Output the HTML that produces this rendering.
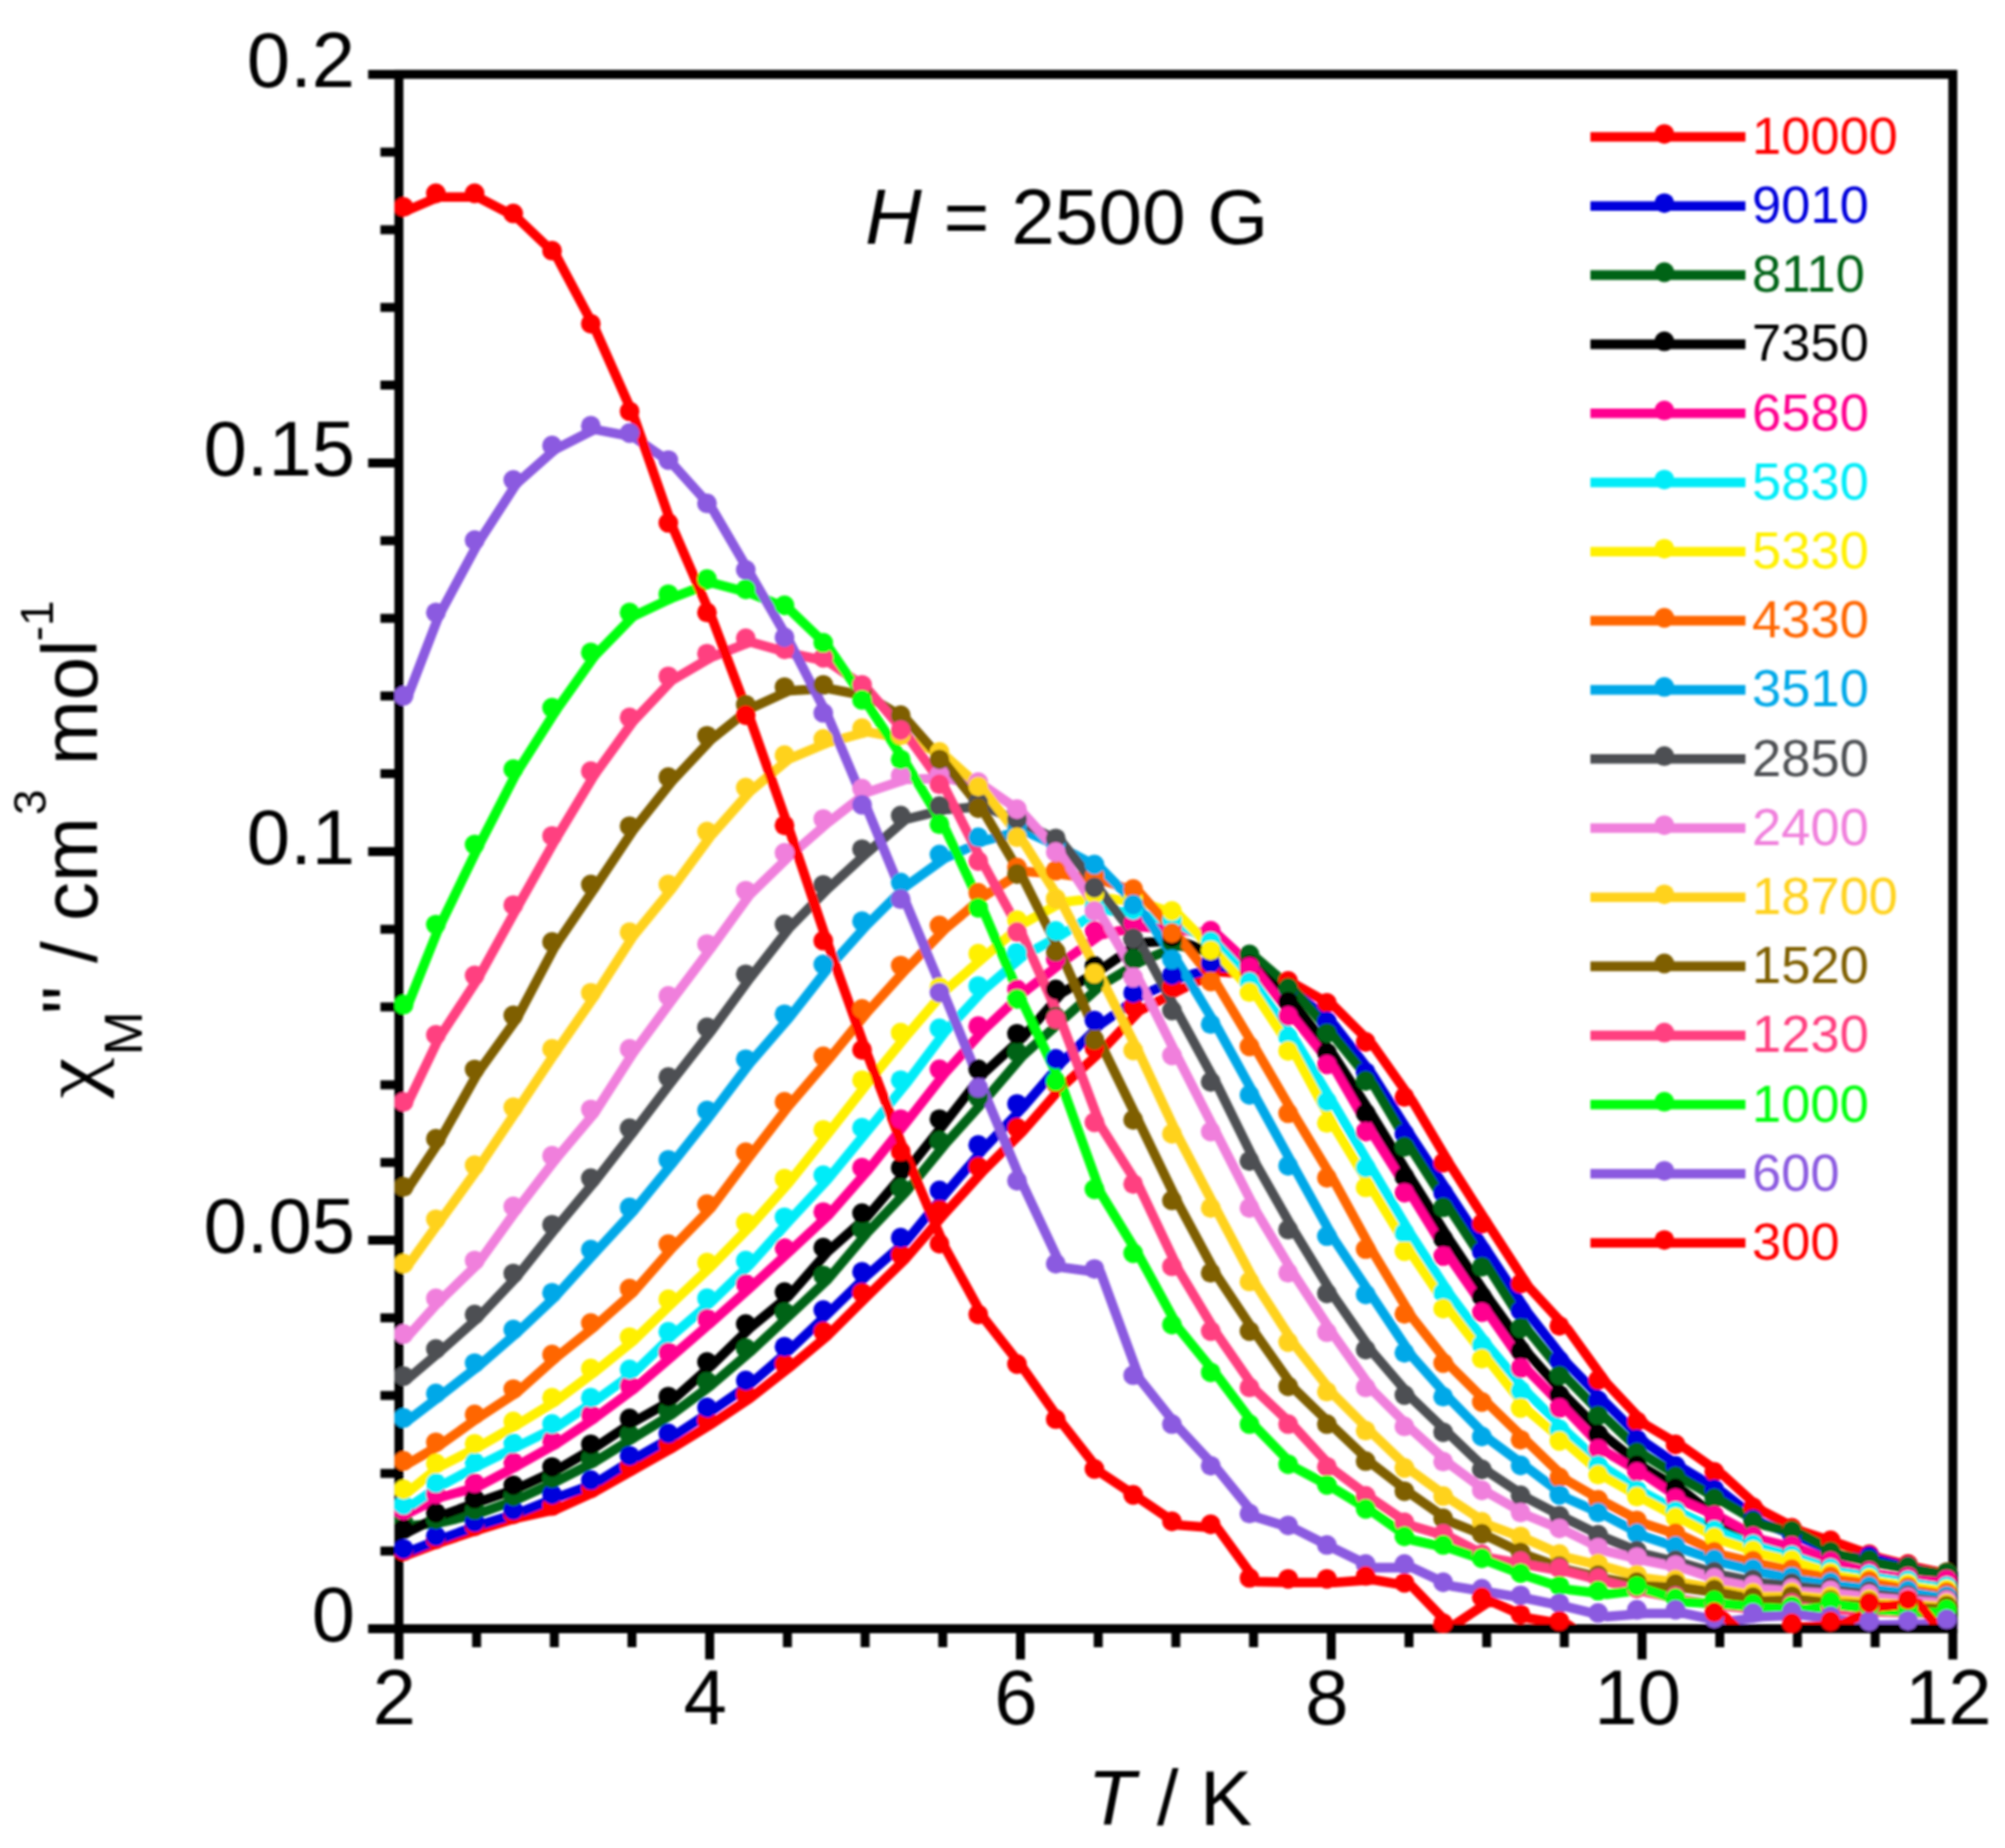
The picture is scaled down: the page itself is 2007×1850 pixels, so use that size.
<!DOCTYPE html>
<html lang="en"><head><meta charset="utf-8"><title>AC susceptibility plot</title>
<style>html,body{margin:0;padding:0;background:#fff;}body{width:2007px;height:1850px;overflow:hidden;}svg{display:block;}text{font-family:"Liberation Sans", Arial, sans-serif;}</style>
</head><body>
<svg width="2007" height="1850" viewBox="0 0 2007 1850">
<defs><clipPath id="cp"><rect x="395" y="70" width="1564.6" height="1565"/></clipPath><filter id="bl" x="-2%" y="-2%" width="104%" height="104%"><feGaussianBlur stdDeviation="1.0"/></filter></defs>
<rect width="2007" height="1850" fill="#fff"/>
<g filter="url(#bl)">
<g fill="#000"><text x="394.8" y="1726" font-size="78" text-anchor="middle">2</text><text x="705.9" y="1726" font-size="78" text-anchor="middle">4</text><text x="1017" y="1726" font-size="78" text-anchor="middle">6</text><text x="1328.1" y="1726" font-size="78" text-anchor="middle">8</text><text x="1639.2" y="1726" font-size="78" text-anchor="middle">10</text><text x="1950.3" y="1726" font-size="78" text-anchor="middle">12</text><text x="355.5" y="1643" font-size="78" text-anchor="end">0</text><text x="355.5" y="1254" font-size="78" text-anchor="end">0.05</text><text x="355.5" y="865" font-size="78" text-anchor="end">0.1</text><text x="355.5" y="475.9" font-size="78" text-anchor="end">0.15</text><text x="355.5" y="86.9" font-size="78" text-anchor="end">0.2</text></g>
<text x="1171" y="1826.5" font-size="78" text-anchor="middle" fill="#000"><tspan font-style="italic">T</tspan> / K</text>
<text x="866" y="243.5" font-size="78.5" fill="#000"><tspan font-style="italic">H</tspan> = 2500 G</text>
<g transform="translate(97 1100) rotate(-90)" fill="#000"><text transform="scale(1.17 1)" x="0.5" y="0" font-size="78" style="font-family:'Liberation Serif','DejaVu Serif',serif">χ</text><text x="43.5" y="45.3" font-size="53">M</text><text x="85" y="0" font-size="78">"</text><text x="136" y="0" font-size="78">/</text><text x="178" y="0" font-size="78">cm</text><text x="284" y="-51" font-size="46">3</text><text x="334" y="0" font-size="78">mol</text><text x="458" y="-44.5" font-size="46">-1</text></g>
<g clip-path="url(#cp)" fill="none" stroke-width="9.6" stroke-linejoin="round" stroke-linecap="round"><polyline points="407,1556.7 439.1,1544.7 478.1,1531.7 517,1519.7 556,1511.4 595,1493.7 634,1471.5 673,1449.6 712,1425.7 750.9,1399.7 789.9,1369.2 828.9,1336.7 867.9,1297.8 906.9,1259.7 945.9,1214.7 984.8,1171.6 1023.8,1132.6 1062.8,1088.2 1101.8,1052.7 1140.8,1011.7 1179.8,991.7 1218.7,972.7 1257.7,975.7 1296.7,985.7 1335.7,1007.7 1374.7,1046.7 1413.7,1101.9 1452.6,1167.7 1491.6,1228.7 1530.6,1288.8 1569.6,1331 1608.6,1385.1 1647.6,1426.5 1686.5,1449.7 1725.5,1477.2 1764.5,1512.7 1803.5,1533.1 1842.5,1545.7 1881.5,1559.6 1920.4,1569.4 1959.4,1577.7" stroke="#ff0000"/><polyline points="407,1554.3 439.1,1541.4 478.1,1527.4 517,1515.4 556,1499.7 595,1485.4 634,1461 673,1438.6 712,1412.7 750.9,1385.7 789.9,1351.9 828.9,1315.1 867.9,1276.9 906.9,1242.7 945.9,1195.4 984.8,1149.9 1023.8,1108.8 1062.8,1063.7 1101.8,1025.3 1140.8,997.7 1179.8,979.7 1218.7,967.7 1257.7,971.7 1296.7,993.7 1335.7,1026.1 1374.7,1077 1413.7,1138.7 1452.6,1197.7 1491.6,1256.7 1530.6,1315.8 1569.6,1365.6 1608.6,1405.6 1647.6,1444.7 1686.5,1471.2 1725.5,1494.7 1764.5,1524.7 1803.5,1539.7 1842.5,1557.7 1881.5,1561.7 1920.4,1571.7 1959.4,1578.7" stroke="#0000dc"/><polyline points="407,1527.7 439.1,1524.7 478.1,1515.4 517,1501.5 556,1483.5 595,1463.6 634,1439.6 673,1415.7 712,1386.7 750.9,1353.4 789.9,1317.3 828.9,1280.5 867.9,1234.3 906.9,1193.2 945.9,1145.6 984.8,1102.3 1023.8,1056.9 1062.8,1021.7 1101.8,986.7 1140.8,963.2 1179.8,946.7 1218.7,953.7 1257.7,959.2 1296.7,992.7 1335.7,1038 1374.7,1085.7 1413.7,1151.7 1452.6,1212.4 1491.6,1271.9 1530.6,1333.1 1569.6,1380.8 1608.6,1420.8 1647.6,1457.7 1686.5,1481.7 1725.5,1503.7 1764.5,1526.7 1803.5,1535.9 1842.5,1556.8 1881.5,1565.2 1920.4,1572.2 1959.4,1577.8" stroke="#006414"/><polyline points="407,1534.4 439.1,1518.2 478.1,1504.1 517,1490.5 556,1472.3 595,1449.5 634,1423.6 673,1401.8 712,1367.2 750.9,1329.2 789.9,1297.2 828.9,1252.7 867.9,1218.1 906.9,1172.7 945.9,1124 984.8,1074.2 1023.8,1038.5 1062.8,994.2 1101.8,970.7 1140.8,943.7 1179.8,941.7 1218.7,955.7 1257.7,969.7 1296.7,1006.4 1335.7,1057.5 1374.7,1118.1 1413.7,1181.7 1452.6,1243.7 1491.6,1301.7 1530.6,1355.9 1569.6,1400.2 1608.6,1439.4 1647.6,1470.7 1686.5,1493.7 1725.5,1524.7 1764.5,1543.7 1803.5,1552.7 1842.5,1567.7 1881.5,1576.7 1920.4,1582.7 1959.4,1585.7" stroke="#000000"/><polyline points="407,1515.7 439.1,1499.5 478.1,1488.5 517,1467.7 556,1445.9 595,1419.9 634,1391 673,1357.5 712,1323.9 750.9,1289.2 789.9,1253.2 828.9,1217 867.9,1172.7 906.9,1124 945.9,1074.2 984.8,1030.9 1023.8,994.1 1062.8,963.7 1101.8,935.7 1140.8,927.7 1179.8,930.7 1218.7,935.4 1257.7,971.5 1296.7,1020.7 1335.7,1069.4 1374.7,1136.5 1413.7,1197.8 1452.6,1261.1 1491.6,1317.4 1530.6,1373.2 1569.6,1413.2 1608.6,1454.1 1647.6,1477.3 1686.5,1503.5 1725.5,1520.7 1764.5,1541.7 1803.5,1551.2 1842.5,1566.6 1881.5,1576.4 1920.4,1582 1959.4,1584.8" stroke="#ff0090"/><polyline points="407,1510.2 439.1,1488.4 478.1,1467.7 517,1448.5 556,1429.2 595,1402.9 634,1374.7 673,1336.9 712,1303.4 750.9,1265.7 789.9,1222.3 828.9,1180.2 867.9,1132.6 906.9,1085 945.9,1033.1 984.8,990.8 1023.8,957.3 1062.8,935.7 1101.8,910.7 1140.8,914.7 1179.8,924.7 1218.7,946.1 1257.7,986.7 1296.7,1041.7 1335.7,1106.2 1374.7,1172.5 1413.7,1237.9 1452.6,1297.7 1491.6,1349.7 1530.6,1395.9 1569.6,1434.7 1608.6,1470.7 1647.6,1495.5 1686.5,1516.3 1725.5,1535.4 1764.5,1549.7 1803.5,1560.7 1842.5,1573.7 1881.5,1579.7 1920.4,1585.7 1959.4,1591.7" stroke="#00ecf8"/><polyline points="407,1494.7 439.1,1468.7 478.1,1449 517,1426.7 556,1402.9 595,1373.7 634,1342.3 673,1304.4 712,1267.6 750.9,1227.7 789.9,1183.7 828.9,1134.8 867.9,1085 906.9,1037.4 945.9,991.9 984.8,958.4 1023.8,924.8 1062.8,903.2 1101.8,898.7 1140.8,902.7 1179.8,915.7 1218.7,955 1257.7,996.9 1296.7,1055.7 1335.7,1127.9 1374.7,1192.4 1413.7,1256.3 1452.6,1313.7 1491.6,1363.9 1530.6,1413.2 1569.6,1446.2 1608.6,1479.9 1647.6,1501.9 1686.5,1522.6 1725.5,1542.7 1764.5,1555.7 1803.5,1565.2 1842.5,1577.8 1881.5,1583.4 1920.4,1589 1959.4,1594.5" stroke="#fff000"/><polyline points="407,1466.1 439.1,1447.5 478.1,1419.7 517,1394.3 556,1359.6 595,1328.2 634,1293.6 673,1249.2 712,1209.2 750.9,1157.2 789.9,1106.6 828.9,1061.2 867.9,1013.6 906.9,970.3 945.9,930.2 984.8,897.4 1023.8,872.2 1062.8,875.2 1101.8,880.7 1140.8,893.7 1179.8,937.7 1218.7,986.2 1257.7,1051.2 1296.7,1118.1 1335.7,1182.7 1374.7,1254.1 1413.7,1319 1452.6,1368.3 1491.6,1407.2 1530.6,1445 1569.6,1482.7 1608.6,1505.1 1647.6,1525.8 1686.5,1538.6 1725.5,1557.2 1764.5,1566.2 1803.5,1574.7 1842.5,1581.7 1881.5,1586.2 1920.4,1592.4 1959.4,1597.7" stroke="#ff6600"/><polyline points="407,1423.1 439.1,1398.6 478.1,1368.3 517,1334.7 556,1297.9 595,1254.7 634,1212.4 673,1164.8 712,1115.4 750.9,1064 789.9,1019 828.9,969.2 867.9,925.9 906.9,887.2 945.9,859.2 984.8,841.9 1023.8,831.1 1062.8,848.7 1101.8,869.2 1140.8,909.2 1179.8,964.2 1218.7,1028.9 1257.7,1099.7 1296.7,1170.7 1335.7,1241.1 1374.7,1299.5 1413.7,1358 1452.6,1401.9 1491.6,1441.7 1530.6,1470.7 1569.6,1500.3 1608.6,1517.9 1647.6,1538.6 1686.5,1551.4 1725.5,1564.7 1764.5,1574.2 1803.5,1582 1842.5,1587.6 1881.5,1591.7 1920.4,1595.7 1959.4,1601.5" stroke="#00a8e8"/><polyline points="407,1381.3 439.1,1354.2 478.1,1319.6 517,1278.5 556,1229.8 595,1183.2 634,1133.1 673,1081.9 712,1032.1 750.9,979 789.9,929.2 828.9,889.5 867.9,853.8 906.9,820.2 945.9,810.5 984.8,807.2 1023.8,823.7 1062.8,843 1101.8,892.2 1140.8,943.2 1179.8,1015.2 1218.7,1086.7 1257.7,1166 1296.7,1234.6 1335.7,1298.5 1374.7,1354.7 1413.7,1400.2 1452.6,1437.5 1491.6,1474.7 1530.6,1500.7 1569.6,1521.1 1608.6,1540.2 1647.6,1556.2 1686.5,1565.7 1725.5,1577.2 1764.5,1584.9 1803.5,1588.7 1842.5,1592.7 1881.5,1596.7 1920.4,1600.7 1959.4,1604.7" stroke="#4d5052"/><polyline points="407,1339.1 439.1,1303.4 478.1,1265.5 517,1211.4 556,1160.7 595,1114.3 634,1053.7 673,1000.7 712,948.8 750.9,895.3 789.9,857.4 828.9,823.5 867.9,793.2 906.9,780.2 945.9,779.1 984.8,786.7 1023.8,813.7 1062.8,856.7 1101.8,915.7 1140.8,982.2 1179.8,1060.2 1218.7,1136.5 1257.7,1213 1296.7,1277.9 1335.7,1337.4 1374.7,1392.6 1413.7,1431.6 1452.6,1466.9 1491.6,1495.7 1530.6,1517.9 1569.6,1533.8 1608.6,1553 1647.6,1562.5 1686.5,1570.5 1725.5,1583.4 1764.5,1590.7 1803.5,1593.7 1842.5,1595.9 1881.5,1599.7 1920.4,1602.7 1959.4,1605.7" stroke="#f07fdc"/><polyline points="407,1268.7 439.1,1224.3 478.1,1170.2 517,1112.2 556,1053.7 595,997.5 634,936.9 673,889.2 712,836.2 750.9,792.2 789.9,759.7 828.9,743.4 867.9,732.6 906.9,739.7 945.9,756.4 984.8,791 1023.8,841.9 1062.8,903.7 1101.8,978.2 1140.8,1055.2 1179.8,1138.7 1218.7,1213 1257.7,1286.6 1296.7,1347.2 1335.7,1396.9 1374.7,1435.9 1413.7,1473.2 1452.6,1501.4 1491.6,1527.2 1530.6,1541.8 1569.6,1559.4 1608.6,1568.9 1647.6,1580.1 1686.5,1584.9 1725.5,1591.7 1764.5,1598.2 1803.5,1597.7 1842.5,1601.7 1881.5,1604.7 1920.4,1606.7 1959.4,1608.7" stroke="#ffd21e"/><polyline points="407,1191.9 439.1,1143.7 478.1,1074.3 517,1020.2 556,946.6 595,889.2 634,830.8 673,781.7 712,740.3 750.9,709.3 789.9,691.5 828.9,689.3 867.9,696.7 906.9,719.6 945.9,764 984.8,812.7 1023.8,878.7 1062.8,956.4 1101.8,1044.7 1140.8,1124.7 1179.8,1205.4 1218.7,1277.9 1257.7,1336.3 1296.7,1391.5 1335.7,1429.4 1374.7,1466.4 1413.7,1496.5 1452.6,1523.7 1491.6,1539.2 1530.6,1557.8 1569.6,1571.7 1608.6,1580.7 1647.6,1587.7 1686.5,1589.7 1725.5,1595.2 1764.5,1602.7 1803.5,1601.5 1842.5,1605.7 1881.5,1607.7 1920.4,1609.7 1959.4,1611.3" stroke="#7f5f00"/><polyline points="407,1106.8 439.1,1039.7 478.1,980.2 517,909.8 556,840.5 595,775.7 634,721.9 673,680.8 712,658 750.9,642.7 789.9,653.7 828.9,662.2 867.9,689.3 906.9,734.7 945.9,788.9 984.8,865.7 1023.8,936.7 1062.8,1023.7 1101.8,1127.2 1140.8,1189 1179.8,1271.4 1218.7,1336.3 1257.7,1392.6 1296.7,1429.4 1335.7,1472 1374.7,1501.2 1413.7,1527.7 1452.6,1539.2 1491.6,1559.7 1530.6,1566.7 1569.6,1573.7 1608.6,1583.7 1647.6,1593.7 1686.5,1601.7 1725.5,1607.7 1764.5,1611.7 1803.5,1608.7 1842.5,1611.7 1881.5,1613.7 1920.4,1614.7 1959.4,1615.7" stroke="#ff4080"/><polyline points="407,1009.4 439.1,929.3 478.1,849.2 517,773.7 556,712.1 595,656.9 634,616.9 673,598.5 712,583.4 750.9,593.7 789.9,609.7 828.9,647.1 867.9,704.4 906.9,764 945.9,828.9 984.8,912.5 1023.8,1003.8 1062.8,1086.1 1101.8,1194.2 1140.8,1258.2 1179.8,1329.8 1218.7,1377.5 1257.7,1429.4 1296.7,1469.5 1335.7,1490.3 1374.7,1514.2 1413.7,1541.7 1452.6,1550.4 1491.6,1563.7 1530.6,1578.5 1569.6,1591.3 1608.6,1596.1 1647.6,1591.3 1686.5,1603.7 1725.5,1605.7 1764.5,1609.4 1803.5,1611.3 1842.5,1607.1 1881.5,1611.7 1920.4,1613.7 1959.4,1614.7" stroke="#00ff0a"/><polyline points="407,700.2 439.1,616.9 478.1,544.4 517,484.2 556,449.7 595,429.9 634,437.2 673,464.3 712,507.6 750.9,574.1 789.9,641.7 828.9,717.4 867.9,809.4 906.9,903.9 945.9,997.3 984.8,1092.6 1023.8,1185.7 1062.8,1268.7 1101.8,1274 1140.8,1380.4 1179.8,1429.4 1218.7,1471 1257.7,1518.9 1296.7,1530.8 1335.7,1550.4 1374.7,1569.4 1413.7,1569.4 1452.6,1587.7 1491.6,1594.1 1530.6,1600.8 1569.6,1608.8 1608.6,1618.4 1647.6,1615.2 1686.5,1615.2 1725.5,1623.7 1764.5,1618.4 1803.5,1616.7 1842.5,1621.7 1881.5,1626.7 1920.4,1626 1959.4,1624.6" stroke="#8b5ae0"/><polyline points="407,210.9 439.1,197.2 478.1,197.2 517,217.4 556,254.6 595,327.8 634,415.5 673,527.1 712,616.9 750.9,719.7 789.9,830 828.9,945.4 867.9,1054.7 906.9,1156.4 945.9,1248.7 984.8,1319.5 1023.8,1369.2 1062.8,1424.4 1101.8,1474.2 1140.8,1500.2 1179.8,1526.7 1218.7,1529.7 1257.7,1583.4 1296.7,1584.3 1335.7,1584.3 1374.7,1581.4 1413.7,1588.3 1452.6,1628.7 1491.6,1602.7 1530.6,1620 1569.6,1626.4 1608.6,1653.7 1647.6,1653.7 1686.5,1653.7 1725.5,1617.6 1764.5,1653.7 1803.5,1628.7 1842.5,1626.7 1881.5,1608.5 1920.4,1605 1959.4,1653.7" stroke="#ff0000"/></g>
<g><rect x="399.3" y="74.4" width="1555.5" height="1556.1" fill="none" stroke="#000" stroke-width="9"/><path d="M399.3 1630.5V1661.3M477.1 1630.5V1649M554.9 1630.5V1649M632.6 1630.5V1649M710.4 1630.5V1661.3M788.2 1630.5V1649M866 1630.5V1649M943.7 1630.5V1649M1021.5 1630.5V1661.3M1099.3 1630.5V1649M1177 1630.5V1649M1254.8 1630.5V1649M1332.6 1630.5V1661.3M1410.4 1630.5V1649M1488.2 1630.5V1649M1565.9 1630.5V1649M1643.7 1630.5V1661.3M1721.5 1630.5V1649M1799.2 1630.5V1649M1877 1630.5V1649M1954.8 1630.5V1661.3M399.3 1630.5H368.5M399.3 1552.7H380.8M399.3 1474.9H380.8M399.3 1397.1H380.8M399.3 1319.3H380.8M399.3 1241.5H368.5M399.3 1163.7H380.8M399.3 1085.9H380.8M399.3 1008.1H380.8M399.3 930.3H380.8M399.3 852.5H368.5M399.3 774.6H380.8M399.3 696.8H380.8M399.3 619H380.8M399.3 541.2H380.8M399.3 463.4H368.5M399.3 385.6H380.8M399.3 307.8H380.8M399.3 230H380.8M399.3 152.2H380.8M399.3 74.4H368.5" stroke="#000" stroke-width="9" fill="none"/></g>
<g clip-path="url(#cp)" stroke="none"><g fill="#ff0000"><circle cx="404" cy="1553" r="9.9"/><circle cx="436.3" cy="1541" r="9.9"/><circle cx="475.1" cy="1528" r="9.9"/><circle cx="513.8" cy="1516" r="9.9"/><circle cx="552.6" cy="1507.7" r="9.9"/><circle cx="591.4" cy="1490" r="9.9"/><circle cx="630.2" cy="1467.8" r="9.9"/><circle cx="669" cy="1445.9" r="9.9"/><circle cx="707.7" cy="1422" r="9.9"/><circle cx="746.5" cy="1396" r="9.9"/><circle cx="785.3" cy="1365.5" r="9.9"/><circle cx="824.1" cy="1333" r="9.9"/><circle cx="862.9" cy="1294.1" r="9.9"/><circle cx="901.6" cy="1256" r="9.9"/><circle cx="940.4" cy="1211" r="9.9"/><circle cx="979.2" cy="1167.9" r="9.9"/><circle cx="1018" cy="1128.9" r="9.9"/><circle cx="1056.8" cy="1084.5" r="9.9"/><circle cx="1095.5" cy="1049" r="9.9"/><circle cx="1134.3" cy="1008" r="9.9"/><circle cx="1173.1" cy="988" r="9.9"/><circle cx="1211.9" cy="969" r="9.9"/><circle cx="1250.7" cy="972" r="9.9"/><circle cx="1289.4" cy="982" r="9.9"/><circle cx="1328.2" cy="1004" r="9.9"/><circle cx="1367" cy="1043" r="9.9"/><circle cx="1405.8" cy="1098.2" r="9.9"/><circle cx="1444.6" cy="1164" r="9.9"/><circle cx="1483.3" cy="1225" r="9.9"/><circle cx="1522.1" cy="1285.1" r="9.9"/><circle cx="1560.9" cy="1327.3" r="9.9"/><circle cx="1599.7" cy="1381.4" r="9.9"/><circle cx="1638.5" cy="1422.8" r="9.9"/><circle cx="1677.2" cy="1446" r="9.9"/><circle cx="1716" cy="1473.5" r="9.9"/><circle cx="1754.8" cy="1509" r="9.9"/><circle cx="1793.6" cy="1529.4" r="9.9"/><circle cx="1832.4" cy="1542" r="9.9"/><circle cx="1871.1" cy="1555.9" r="9.9"/><circle cx="1909.9" cy="1565.7" r="9.9"/><circle cx="1948.7" cy="1574" r="9.9"/></g><g fill="#0000dc"><circle cx="404" cy="1550.6" r="9.9"/><circle cx="436.3" cy="1537.7" r="9.9"/><circle cx="475.1" cy="1523.7" r="9.9"/><circle cx="513.8" cy="1511.7" r="9.9"/><circle cx="552.6" cy="1496" r="9.9"/><circle cx="591.4" cy="1481.7" r="9.9"/><circle cx="630.2" cy="1457.3" r="9.9"/><circle cx="669" cy="1434.9" r="9.9"/><circle cx="707.7" cy="1409" r="9.9"/><circle cx="746.5" cy="1382" r="9.9"/><circle cx="785.3" cy="1348.2" r="9.9"/><circle cx="824.1" cy="1311.4" r="9.9"/><circle cx="862.9" cy="1273.2" r="9.9"/><circle cx="901.6" cy="1239" r="9.9"/><circle cx="940.4" cy="1191.7" r="9.9"/><circle cx="979.2" cy="1146.2" r="9.9"/><circle cx="1018" cy="1105.1" r="9.9"/><circle cx="1056.8" cy="1060" r="9.9"/><circle cx="1095.5" cy="1021.6" r="9.9"/><circle cx="1134.3" cy="994" r="9.9"/><circle cx="1173.1" cy="976" r="9.9"/><circle cx="1211.9" cy="964" r="9.9"/><circle cx="1250.7" cy="968" r="9.9"/><circle cx="1289.4" cy="990" r="9.9"/><circle cx="1328.2" cy="1022.4" r="9.9"/><circle cx="1367" cy="1073.3" r="9.9"/><circle cx="1405.8" cy="1135" r="9.9"/><circle cx="1444.6" cy="1194" r="9.9"/><circle cx="1483.3" cy="1253" r="9.9"/><circle cx="1522.1" cy="1312.1" r="9.9"/><circle cx="1560.9" cy="1361.9" r="9.9"/><circle cx="1599.7" cy="1401.9" r="9.9"/><circle cx="1638.5" cy="1441" r="9.9"/><circle cx="1677.2" cy="1467.5" r="9.9"/><circle cx="1716" cy="1491" r="9.9"/><circle cx="1754.8" cy="1521" r="9.9"/><circle cx="1793.6" cy="1536" r="9.9"/><circle cx="1832.4" cy="1554" r="9.9"/><circle cx="1871.1" cy="1558" r="9.9"/><circle cx="1909.9" cy="1568" r="9.9"/><circle cx="1948.7" cy="1575" r="9.9"/></g><g fill="#006414"><circle cx="404" cy="1524" r="9.9"/><circle cx="436.3" cy="1521" r="9.9"/><circle cx="475.1" cy="1511.7" r="9.9"/><circle cx="513.8" cy="1497.8" r="9.9"/><circle cx="552.6" cy="1479.8" r="9.9"/><circle cx="591.4" cy="1459.9" r="9.9"/><circle cx="630.2" cy="1435.9" r="9.9"/><circle cx="669" cy="1412" r="9.9"/><circle cx="707.7" cy="1383" r="9.9"/><circle cx="746.5" cy="1349.7" r="9.9"/><circle cx="785.3" cy="1313.6" r="9.9"/><circle cx="824.1" cy="1276.8" r="9.9"/><circle cx="862.9" cy="1230.6" r="9.9"/><circle cx="901.6" cy="1189.5" r="9.9"/><circle cx="940.4" cy="1141.9" r="9.9"/><circle cx="979.2" cy="1098.6" r="9.9"/><circle cx="1018" cy="1053.2" r="9.9"/><circle cx="1056.8" cy="1018" r="9.9"/><circle cx="1095.5" cy="983" r="9.9"/><circle cx="1134.3" cy="959.5" r="9.9"/><circle cx="1173.1" cy="943" r="9.9"/><circle cx="1211.9" cy="950" r="9.9"/><circle cx="1250.7" cy="955.5" r="9.9"/><circle cx="1289.4" cy="989" r="9.9"/><circle cx="1328.2" cy="1034.3" r="9.9"/><circle cx="1367" cy="1082" r="9.9"/><circle cx="1405.8" cy="1148" r="9.9"/><circle cx="1444.6" cy="1208.7" r="9.9"/><circle cx="1483.3" cy="1268.2" r="9.9"/><circle cx="1522.1" cy="1329.4" r="9.9"/><circle cx="1560.9" cy="1377.1" r="9.9"/><circle cx="1599.7" cy="1417.1" r="9.9"/><circle cx="1638.5" cy="1454" r="9.9"/><circle cx="1677.2" cy="1478" r="9.9"/><circle cx="1716" cy="1500" r="9.9"/><circle cx="1754.8" cy="1523" r="9.9"/><circle cx="1793.6" cy="1532.2" r="9.9"/><circle cx="1832.4" cy="1553.1" r="9.9"/><circle cx="1871.1" cy="1561.5" r="9.9"/><circle cx="1909.9" cy="1568.5" r="9.9"/><circle cx="1948.7" cy="1574.1" r="9.9"/></g><g fill="#000000"><circle cx="404" cy="1530.7" r="9.9"/><circle cx="436.3" cy="1514.5" r="9.9"/><circle cx="475.1" cy="1500.4" r="9.9"/><circle cx="513.8" cy="1486.8" r="9.9"/><circle cx="552.6" cy="1468.6" r="9.9"/><circle cx="591.4" cy="1445.8" r="9.9"/><circle cx="630.2" cy="1419.9" r="9.9"/><circle cx="669" cy="1398.1" r="9.9"/><circle cx="707.7" cy="1363.5" r="9.9"/><circle cx="746.5" cy="1325.5" r="9.9"/><circle cx="785.3" cy="1293.5" r="9.9"/><circle cx="824.1" cy="1249" r="9.9"/><circle cx="862.9" cy="1214.4" r="9.9"/><circle cx="901.6" cy="1169" r="9.9"/><circle cx="940.4" cy="1120.3" r="9.9"/><circle cx="979.2" cy="1070.5" r="9.9"/><circle cx="1018" cy="1034.8" r="9.9"/><circle cx="1056.8" cy="990.5" r="9.9"/><circle cx="1095.5" cy="967" r="9.9"/><circle cx="1134.3" cy="940" r="9.9"/><circle cx="1173.1" cy="938" r="9.9"/><circle cx="1211.9" cy="952" r="9.9"/><circle cx="1250.7" cy="966" r="9.9"/><circle cx="1289.4" cy="1002.7" r="9.9"/><circle cx="1328.2" cy="1053.8" r="9.9"/><circle cx="1367" cy="1114.4" r="9.9"/><circle cx="1405.8" cy="1178" r="9.9"/><circle cx="1444.6" cy="1240" r="9.9"/><circle cx="1483.3" cy="1298" r="9.9"/><circle cx="1522.1" cy="1352.2" r="9.9"/><circle cx="1560.9" cy="1396.5" r="9.9"/><circle cx="1599.7" cy="1435.7" r="9.9"/><circle cx="1638.5" cy="1467" r="9.9"/><circle cx="1677.2" cy="1490" r="9.9"/><circle cx="1716" cy="1521" r="9.9"/><circle cx="1754.8" cy="1540" r="9.9"/><circle cx="1793.6" cy="1549" r="9.9"/><circle cx="1832.4" cy="1564" r="9.9"/><circle cx="1871.1" cy="1573" r="9.9"/><circle cx="1909.9" cy="1579" r="9.9"/><circle cx="1948.7" cy="1582" r="9.9"/></g><g fill="#ff0090"><circle cx="404" cy="1512" r="9.9"/><circle cx="436.3" cy="1495.8" r="9.9"/><circle cx="475.1" cy="1484.8" r="9.9"/><circle cx="513.8" cy="1464" r="9.9"/><circle cx="552.6" cy="1442.2" r="9.9"/><circle cx="591.4" cy="1416.2" r="9.9"/><circle cx="630.2" cy="1387.3" r="9.9"/><circle cx="669" cy="1353.8" r="9.9"/><circle cx="707.7" cy="1320.2" r="9.9"/><circle cx="746.5" cy="1285.5" r="9.9"/><circle cx="785.3" cy="1249.5" r="9.9"/><circle cx="824.1" cy="1213.3" r="9.9"/><circle cx="862.9" cy="1169" r="9.9"/><circle cx="901.6" cy="1120.3" r="9.9"/><circle cx="940.4" cy="1070.5" r="9.9"/><circle cx="979.2" cy="1027.2" r="9.9"/><circle cx="1018" cy="990.4" r="9.9"/><circle cx="1056.8" cy="960" r="9.9"/><circle cx="1095.5" cy="932" r="9.9"/><circle cx="1134.3" cy="924" r="9.9"/><circle cx="1173.1" cy="927" r="9.9"/><circle cx="1211.9" cy="931.7" r="9.9"/><circle cx="1250.7" cy="967.8" r="9.9"/><circle cx="1289.4" cy="1017" r="9.9"/><circle cx="1328.2" cy="1065.7" r="9.9"/><circle cx="1367" cy="1132.8" r="9.9"/><circle cx="1405.8" cy="1194.1" r="9.9"/><circle cx="1444.6" cy="1257.4" r="9.9"/><circle cx="1483.3" cy="1313.7" r="9.9"/><circle cx="1522.1" cy="1369.5" r="9.9"/><circle cx="1560.9" cy="1409.5" r="9.9"/><circle cx="1599.7" cy="1450.4" r="9.9"/><circle cx="1638.5" cy="1473.6" r="9.9"/><circle cx="1677.2" cy="1499.8" r="9.9"/><circle cx="1716" cy="1517" r="9.9"/><circle cx="1754.8" cy="1538" r="9.9"/><circle cx="1793.6" cy="1547.5" r="9.9"/><circle cx="1832.4" cy="1562.9" r="9.9"/><circle cx="1871.1" cy="1572.7" r="9.9"/><circle cx="1909.9" cy="1578.3" r="9.9"/><circle cx="1948.7" cy="1581.1" r="9.9"/></g><g fill="#00ecf8"><circle cx="404" cy="1506.5" r="9.9"/><circle cx="436.3" cy="1484.7" r="9.9"/><circle cx="475.1" cy="1464" r="9.9"/><circle cx="513.8" cy="1444.8" r="9.9"/><circle cx="552.6" cy="1425.5" r="9.9"/><circle cx="591.4" cy="1399.2" r="9.9"/><circle cx="630.2" cy="1371" r="9.9"/><circle cx="669" cy="1333.2" r="9.9"/><circle cx="707.7" cy="1299.7" r="9.9"/><circle cx="746.5" cy="1262" r="9.9"/><circle cx="785.3" cy="1218.6" r="9.9"/><circle cx="824.1" cy="1176.5" r="9.9"/><circle cx="862.9" cy="1128.9" r="9.9"/><circle cx="901.6" cy="1081.3" r="9.9"/><circle cx="940.4" cy="1029.4" r="9.9"/><circle cx="979.2" cy="987.1" r="9.9"/><circle cx="1018" cy="953.6" r="9.9"/><circle cx="1056.8" cy="932" r="9.9"/><circle cx="1095.5" cy="907" r="9.9"/><circle cx="1134.3" cy="911" r="9.9"/><circle cx="1173.1" cy="921" r="9.9"/><circle cx="1211.9" cy="942.4" r="9.9"/><circle cx="1250.7" cy="983" r="9.9"/><circle cx="1289.4" cy="1038" r="9.9"/><circle cx="1328.2" cy="1102.5" r="9.9"/><circle cx="1367" cy="1168.8" r="9.9"/><circle cx="1405.8" cy="1234.2" r="9.9"/><circle cx="1444.6" cy="1294" r="9.9"/><circle cx="1483.3" cy="1346" r="9.9"/><circle cx="1522.1" cy="1392.2" r="9.9"/><circle cx="1560.9" cy="1431" r="9.9"/><circle cx="1599.7" cy="1467" r="9.9"/><circle cx="1638.5" cy="1491.8" r="9.9"/><circle cx="1677.2" cy="1512.6" r="9.9"/><circle cx="1716" cy="1531.7" r="9.9"/><circle cx="1754.8" cy="1546" r="9.9"/><circle cx="1793.6" cy="1557" r="9.9"/><circle cx="1832.4" cy="1570" r="9.9"/><circle cx="1871.1" cy="1576" r="9.9"/><circle cx="1909.9" cy="1582" r="9.9"/><circle cx="1948.7" cy="1588" r="9.9"/></g><g fill="#fff000"><circle cx="404" cy="1491" r="9.9"/><circle cx="436.3" cy="1465" r="9.9"/><circle cx="475.1" cy="1445.3" r="9.9"/><circle cx="513.8" cy="1423" r="9.9"/><circle cx="552.6" cy="1399.2" r="9.9"/><circle cx="591.4" cy="1370" r="9.9"/><circle cx="630.2" cy="1338.6" r="9.9"/><circle cx="669" cy="1300.7" r="9.9"/><circle cx="707.7" cy="1263.9" r="9.9"/><circle cx="746.5" cy="1224" r="9.9"/><circle cx="785.3" cy="1180" r="9.9"/><circle cx="824.1" cy="1131.1" r="9.9"/><circle cx="862.9" cy="1081.3" r="9.9"/><circle cx="901.6" cy="1033.7" r="9.9"/><circle cx="940.4" cy="988.2" r="9.9"/><circle cx="979.2" cy="954.7" r="9.9"/><circle cx="1018" cy="921.1" r="9.9"/><circle cx="1056.8" cy="899.5" r="9.9"/><circle cx="1095.5" cy="895" r="9.9"/><circle cx="1134.3" cy="899" r="9.9"/><circle cx="1173.1" cy="912" r="9.9"/><circle cx="1211.9" cy="951.3" r="9.9"/><circle cx="1250.7" cy="993.2" r="9.9"/><circle cx="1289.4" cy="1052" r="9.9"/><circle cx="1328.2" cy="1124.2" r="9.9"/><circle cx="1367" cy="1188.7" r="9.9"/><circle cx="1405.8" cy="1252.6" r="9.9"/><circle cx="1444.6" cy="1310" r="9.9"/><circle cx="1483.3" cy="1360.2" r="9.9"/><circle cx="1522.1" cy="1409.5" r="9.9"/><circle cx="1560.9" cy="1442.5" r="9.9"/><circle cx="1599.7" cy="1476.2" r="9.9"/><circle cx="1638.5" cy="1498.2" r="9.9"/><circle cx="1677.2" cy="1518.9" r="9.9"/><circle cx="1716" cy="1539" r="9.9"/><circle cx="1754.8" cy="1552" r="9.9"/><circle cx="1793.6" cy="1561.5" r="9.9"/><circle cx="1832.4" cy="1574.1" r="9.9"/><circle cx="1871.1" cy="1579.7" r="9.9"/><circle cx="1909.9" cy="1585.3" r="9.9"/><circle cx="1948.7" cy="1590.8" r="9.9"/></g><g fill="#ff6600"><circle cx="404" cy="1462.4" r="9.9"/><circle cx="436.3" cy="1443.8" r="9.9"/><circle cx="475.1" cy="1416" r="9.9"/><circle cx="513.8" cy="1390.6" r="9.9"/><circle cx="552.6" cy="1355.9" r="9.9"/><circle cx="591.4" cy="1324.5" r="9.9"/><circle cx="630.2" cy="1289.9" r="9.9"/><circle cx="669" cy="1245.5" r="9.9"/><circle cx="707.7" cy="1205.5" r="9.9"/><circle cx="746.5" cy="1153.5" r="9.9"/><circle cx="785.3" cy="1102.9" r="9.9"/><circle cx="824.1" cy="1057.5" r="9.9"/><circle cx="862.9" cy="1009.9" r="9.9"/><circle cx="901.6" cy="966.6" r="9.9"/><circle cx="940.4" cy="926.5" r="9.9"/><circle cx="979.2" cy="893.7" r="9.9"/><circle cx="1018" cy="868.5" r="9.9"/><circle cx="1056.8" cy="871.5" r="9.9"/><circle cx="1095.5" cy="877" r="9.9"/><circle cx="1134.3" cy="890" r="9.9"/><circle cx="1173.1" cy="934" r="9.9"/><circle cx="1211.9" cy="982.5" r="9.9"/><circle cx="1250.7" cy="1047.5" r="9.9"/><circle cx="1289.4" cy="1114.4" r="9.9"/><circle cx="1328.2" cy="1179" r="9.9"/><circle cx="1367" cy="1250.4" r="9.9"/><circle cx="1405.8" cy="1315.3" r="9.9"/><circle cx="1444.6" cy="1364.6" r="9.9"/><circle cx="1483.3" cy="1403.5" r="9.9"/><circle cx="1522.1" cy="1441.3" r="9.9"/><circle cx="1560.9" cy="1479" r="9.9"/><circle cx="1599.7" cy="1501.4" r="9.9"/><circle cx="1638.5" cy="1522.1" r="9.9"/><circle cx="1677.2" cy="1534.9" r="9.9"/><circle cx="1716" cy="1553.5" r="9.9"/><circle cx="1754.8" cy="1562.5" r="9.9"/><circle cx="1793.6" cy="1571" r="9.9"/><circle cx="1832.4" cy="1578" r="9.9"/><circle cx="1871.1" cy="1582.5" r="9.9"/><circle cx="1909.9" cy="1588.7" r="9.9"/><circle cx="1948.7" cy="1594" r="9.9"/></g><g fill="#00a8e8"><circle cx="404" cy="1419.4" r="9.9"/><circle cx="436.3" cy="1394.9" r="9.9"/><circle cx="475.1" cy="1364.6" r="9.9"/><circle cx="513.8" cy="1331" r="9.9"/><circle cx="552.6" cy="1294.2" r="9.9"/><circle cx="591.4" cy="1251" r="9.9"/><circle cx="630.2" cy="1208.7" r="9.9"/><circle cx="669" cy="1161.1" r="9.9"/><circle cx="707.7" cy="1111.7" r="9.9"/><circle cx="746.5" cy="1060.3" r="9.9"/><circle cx="785.3" cy="1015.3" r="9.9"/><circle cx="824.1" cy="965.5" r="9.9"/><circle cx="862.9" cy="922.2" r="9.9"/><circle cx="901.6" cy="883.5" r="9.9"/><circle cx="940.4" cy="855.5" r="9.9"/><circle cx="979.2" cy="838.2" r="9.9"/><circle cx="1018" cy="827.4" r="9.9"/><circle cx="1056.8" cy="845" r="9.9"/><circle cx="1095.5" cy="865.5" r="9.9"/><circle cx="1134.3" cy="905.5" r="9.9"/><circle cx="1173.1" cy="960.5" r="9.9"/><circle cx="1211.9" cy="1025.2" r="9.9"/><circle cx="1250.7" cy="1096" r="9.9"/><circle cx="1289.4" cy="1167" r="9.9"/><circle cx="1328.2" cy="1237.4" r="9.9"/><circle cx="1367" cy="1295.8" r="9.9"/><circle cx="1405.8" cy="1354.3" r="9.9"/><circle cx="1444.6" cy="1398.2" r="9.9"/><circle cx="1483.3" cy="1438" r="9.9"/><circle cx="1522.1" cy="1467" r="9.9"/><circle cx="1560.9" cy="1496.6" r="9.9"/><circle cx="1599.7" cy="1514.2" r="9.9"/><circle cx="1638.5" cy="1534.9" r="9.9"/><circle cx="1677.2" cy="1547.7" r="9.9"/><circle cx="1716" cy="1561" r="9.9"/><circle cx="1754.8" cy="1570.5" r="9.9"/><circle cx="1793.6" cy="1578.3" r="9.9"/><circle cx="1832.4" cy="1583.9" r="9.9"/><circle cx="1871.1" cy="1588" r="9.9"/><circle cx="1909.9" cy="1592" r="9.9"/><circle cx="1948.7" cy="1597.8" r="9.9"/></g><g fill="#4d5052"><circle cx="404" cy="1377.6" r="9.9"/><circle cx="436.3" cy="1350.5" r="9.9"/><circle cx="475.1" cy="1315.9" r="9.9"/><circle cx="513.8" cy="1274.8" r="9.9"/><circle cx="552.6" cy="1226.1" r="9.9"/><circle cx="591.4" cy="1179.5" r="9.9"/><circle cx="630.2" cy="1129.4" r="9.9"/><circle cx="669" cy="1078.2" r="9.9"/><circle cx="707.7" cy="1028.4" r="9.9"/><circle cx="746.5" cy="975.3" r="9.9"/><circle cx="785.3" cy="925.5" r="9.9"/><circle cx="824.1" cy="885.8" r="9.9"/><circle cx="862.9" cy="850.1" r="9.9"/><circle cx="901.6" cy="816.5" r="9.9"/><circle cx="940.4" cy="806.8" r="9.9"/><circle cx="979.2" cy="803.5" r="9.9"/><circle cx="1018" cy="820" r="9.9"/><circle cx="1056.8" cy="839.3" r="9.9"/><circle cx="1095.5" cy="888.5" r="9.9"/><circle cx="1134.3" cy="939.5" r="9.9"/><circle cx="1173.1" cy="1011.5" r="9.9"/><circle cx="1211.9" cy="1083" r="9.9"/><circle cx="1250.7" cy="1162.3" r="9.9"/><circle cx="1289.4" cy="1230.9" r="9.9"/><circle cx="1328.2" cy="1294.8" r="9.9"/><circle cx="1367" cy="1351" r="9.9"/><circle cx="1405.8" cy="1396.5" r="9.9"/><circle cx="1444.6" cy="1433.8" r="9.9"/><circle cx="1483.3" cy="1471" r="9.9"/><circle cx="1522.1" cy="1497" r="9.9"/><circle cx="1560.9" cy="1517.4" r="9.9"/><circle cx="1599.7" cy="1536.5" r="9.9"/><circle cx="1638.5" cy="1552.5" r="9.9"/><circle cx="1677.2" cy="1562" r="9.9"/><circle cx="1716" cy="1573.5" r="9.9"/><circle cx="1754.8" cy="1581.2" r="9.9"/><circle cx="1793.6" cy="1585" r="9.9"/><circle cx="1832.4" cy="1589" r="9.9"/><circle cx="1871.1" cy="1593" r="9.9"/><circle cx="1909.9" cy="1597" r="9.9"/><circle cx="1948.7" cy="1601" r="9.9"/></g><g fill="#f07fdc"><circle cx="404" cy="1335.4" r="9.9"/><circle cx="436.3" cy="1299.7" r="9.9"/><circle cx="475.1" cy="1261.8" r="9.9"/><circle cx="513.8" cy="1207.7" r="9.9"/><circle cx="552.6" cy="1157" r="9.9"/><circle cx="591.4" cy="1110.6" r="9.9"/><circle cx="630.2" cy="1050" r="9.9"/><circle cx="669" cy="997" r="9.9"/><circle cx="707.7" cy="945.1" r="9.9"/><circle cx="746.5" cy="891.6" r="9.9"/><circle cx="785.3" cy="853.7" r="9.9"/><circle cx="824.1" cy="819.8" r="9.9"/><circle cx="862.9" cy="789.5" r="9.9"/><circle cx="901.6" cy="776.5" r="9.9"/><circle cx="940.4" cy="775.4" r="9.9"/><circle cx="979.2" cy="783" r="9.9"/><circle cx="1018" cy="810" r="9.9"/><circle cx="1056.8" cy="853" r="9.9"/><circle cx="1095.5" cy="912" r="9.9"/><circle cx="1134.3" cy="978.5" r="9.9"/><circle cx="1173.1" cy="1056.5" r="9.9"/><circle cx="1211.9" cy="1132.8" r="9.9"/><circle cx="1250.7" cy="1209.3" r="9.9"/><circle cx="1289.4" cy="1274.2" r="9.9"/><circle cx="1328.2" cy="1333.7" r="9.9"/><circle cx="1367" cy="1388.9" r="9.9"/><circle cx="1405.8" cy="1427.9" r="9.9"/><circle cx="1444.6" cy="1463.2" r="9.9"/><circle cx="1483.3" cy="1492" r="9.9"/><circle cx="1522.1" cy="1514.2" r="9.9"/><circle cx="1560.9" cy="1530.1" r="9.9"/><circle cx="1599.7" cy="1549.3" r="9.9"/><circle cx="1638.5" cy="1558.8" r="9.9"/><circle cx="1677.2" cy="1566.8" r="9.9"/><circle cx="1716" cy="1579.7" r="9.9"/><circle cx="1754.8" cy="1587" r="9.9"/><circle cx="1793.6" cy="1590" r="9.9"/><circle cx="1832.4" cy="1592.2" r="9.9"/><circle cx="1871.1" cy="1596" r="9.9"/><circle cx="1909.9" cy="1599" r="9.9"/><circle cx="1948.7" cy="1602" r="9.9"/></g><g fill="#ffd21e"><circle cx="404" cy="1265" r="9.9"/><circle cx="436.3" cy="1220.6" r="9.9"/><circle cx="475.1" cy="1166.5" r="9.9"/><circle cx="513.8" cy="1108.5" r="9.9"/><circle cx="552.6" cy="1050" r="9.9"/><circle cx="591.4" cy="993.8" r="9.9"/><circle cx="630.2" cy="933.2" r="9.9"/><circle cx="669" cy="885.5" r="9.9"/><circle cx="707.7" cy="832.5" r="9.9"/><circle cx="746.5" cy="788.5" r="9.9"/><circle cx="785.3" cy="756" r="9.9"/><circle cx="824.1" cy="739.7" r="9.9"/><circle cx="862.9" cy="728.9" r="9.9"/><circle cx="901.6" cy="736" r="9.9"/><circle cx="940.4" cy="752.7" r="9.9"/><circle cx="979.2" cy="787.3" r="9.9"/><circle cx="1018" cy="838.2" r="9.9"/><circle cx="1056.8" cy="900" r="9.9"/><circle cx="1095.5" cy="974.5" r="9.9"/><circle cx="1134.3" cy="1051.5" r="9.9"/><circle cx="1173.1" cy="1135" r="9.9"/><circle cx="1211.9" cy="1209.3" r="9.9"/><circle cx="1250.7" cy="1282.9" r="9.9"/><circle cx="1289.4" cy="1343.5" r="9.9"/><circle cx="1328.2" cy="1393.2" r="9.9"/><circle cx="1367" cy="1432.2" r="9.9"/><circle cx="1405.8" cy="1469.5" r="9.9"/><circle cx="1444.6" cy="1497.7" r="9.9"/><circle cx="1483.3" cy="1523.5" r="9.9"/><circle cx="1522.1" cy="1538.1" r="9.9"/><circle cx="1560.9" cy="1555.7" r="9.9"/><circle cx="1599.7" cy="1565.2" r="9.9"/><circle cx="1638.5" cy="1576.4" r="9.9"/><circle cx="1677.2" cy="1581.2" r="9.9"/><circle cx="1716" cy="1588" r="9.9"/><circle cx="1754.8" cy="1594.5" r="9.9"/><circle cx="1793.6" cy="1594" r="9.9"/><circle cx="1832.4" cy="1598" r="9.9"/><circle cx="1871.1" cy="1601" r="9.9"/><circle cx="1909.9" cy="1603" r="9.9"/><circle cx="1948.7" cy="1605" r="9.9"/></g><g fill="#7f5f00"><circle cx="404" cy="1188.2" r="9.9"/><circle cx="436.3" cy="1140" r="9.9"/><circle cx="475.1" cy="1070.6" r="9.9"/><circle cx="513.8" cy="1016.5" r="9.9"/><circle cx="552.6" cy="942.9" r="9.9"/><circle cx="591.4" cy="885.5" r="9.9"/><circle cx="630.2" cy="827.1" r="9.9"/><circle cx="669" cy="778" r="9.9"/><circle cx="707.7" cy="736.6" r="9.9"/><circle cx="746.5" cy="705.6" r="9.9"/><circle cx="785.3" cy="687.8" r="9.9"/><circle cx="824.1" cy="685.6" r="9.9"/><circle cx="862.9" cy="693" r="9.9"/><circle cx="901.6" cy="715.9" r="9.9"/><circle cx="940.4" cy="760.3" r="9.9"/><circle cx="979.2" cy="809" r="9.9"/><circle cx="1018" cy="875" r="9.9"/><circle cx="1056.8" cy="952.7" r="9.9"/><circle cx="1095.5" cy="1041" r="9.9"/><circle cx="1134.3" cy="1121" r="9.9"/><circle cx="1173.1" cy="1201.7" r="9.9"/><circle cx="1211.9" cy="1274.2" r="9.9"/><circle cx="1250.7" cy="1332.6" r="9.9"/><circle cx="1289.4" cy="1387.8" r="9.9"/><circle cx="1328.2" cy="1425.7" r="9.9"/><circle cx="1367" cy="1462.7" r="9.9"/><circle cx="1405.8" cy="1492.8" r="9.9"/><circle cx="1444.6" cy="1520" r="9.9"/><circle cx="1483.3" cy="1535.5" r="9.9"/><circle cx="1522.1" cy="1554.1" r="9.9"/><circle cx="1560.9" cy="1568" r="9.9"/><circle cx="1599.7" cy="1577" r="9.9"/><circle cx="1638.5" cy="1584" r="9.9"/><circle cx="1677.2" cy="1586" r="9.9"/><circle cx="1716" cy="1591.5" r="9.9"/><circle cx="1754.8" cy="1599" r="9.9"/><circle cx="1793.6" cy="1597.8" r="9.9"/><circle cx="1832.4" cy="1602" r="9.9"/><circle cx="1871.1" cy="1604" r="9.9"/><circle cx="1909.9" cy="1606" r="9.9"/><circle cx="1948.7" cy="1607.6" r="9.9"/></g><g fill="#ff4080"><circle cx="404" cy="1103.1" r="9.9"/><circle cx="436.3" cy="1036" r="9.9"/><circle cx="475.1" cy="976.5" r="9.9"/><circle cx="513.8" cy="906.1" r="9.9"/><circle cx="552.6" cy="836.8" r="9.9"/><circle cx="591.4" cy="772" r="9.9"/><circle cx="630.2" cy="718.2" r="9.9"/><circle cx="669" cy="677.1" r="9.9"/><circle cx="707.7" cy="654.3" r="9.9"/><circle cx="746.5" cy="639" r="9.9"/><circle cx="785.3" cy="650" r="9.9"/><circle cx="824.1" cy="658.5" r="9.9"/><circle cx="862.9" cy="685.6" r="9.9"/><circle cx="901.6" cy="731" r="9.9"/><circle cx="940.4" cy="785.2" r="9.9"/><circle cx="979.2" cy="862" r="9.9"/><circle cx="1018" cy="933" r="9.9"/><circle cx="1056.8" cy="1020" r="9.9"/><circle cx="1095.5" cy="1123.5" r="9.9"/><circle cx="1134.3" cy="1185.3" r="9.9"/><circle cx="1173.1" cy="1267.7" r="9.9"/><circle cx="1211.9" cy="1332.6" r="9.9"/><circle cx="1250.7" cy="1388.9" r="9.9"/><circle cx="1289.4" cy="1425.7" r="9.9"/><circle cx="1328.2" cy="1468.3" r="9.9"/><circle cx="1367" cy="1497.5" r="9.9"/><circle cx="1405.8" cy="1524" r="9.9"/><circle cx="1444.6" cy="1535.5" r="9.9"/><circle cx="1483.3" cy="1556" r="9.9"/><circle cx="1522.1" cy="1563" r="9.9"/><circle cx="1560.9" cy="1570" r="9.9"/><circle cx="1599.7" cy="1580" r="9.9"/><circle cx="1638.5" cy="1590" r="9.9"/><circle cx="1677.2" cy="1598" r="9.9"/><circle cx="1716" cy="1604" r="9.9"/><circle cx="1754.8" cy="1608" r="9.9"/><circle cx="1793.6" cy="1605" r="9.9"/><circle cx="1832.4" cy="1608" r="9.9"/><circle cx="1871.1" cy="1610" r="9.9"/><circle cx="1909.9" cy="1611" r="9.9"/><circle cx="1948.7" cy="1612" r="9.9"/></g><g fill="#00ff0a"><circle cx="404" cy="1005.7" r="9.9"/><circle cx="436.3" cy="925.6" r="9.9"/><circle cx="475.1" cy="845.5" r="9.9"/><circle cx="513.8" cy="770" r="9.9"/><circle cx="552.6" cy="708.4" r="9.9"/><circle cx="591.4" cy="653.2" r="9.9"/><circle cx="630.2" cy="613.2" r="9.9"/><circle cx="669" cy="594.8" r="9.9"/><circle cx="707.7" cy="579.7" r="9.9"/><circle cx="746.5" cy="590" r="9.9"/><circle cx="785.3" cy="606" r="9.9"/><circle cx="824.1" cy="643.4" r="9.9"/><circle cx="862.9" cy="700.7" r="9.9"/><circle cx="901.6" cy="760.3" r="9.9"/><circle cx="940.4" cy="825.2" r="9.9"/><circle cx="979.2" cy="908.8" r="9.9"/><circle cx="1018" cy="1000.1" r="9.9"/><circle cx="1056.8" cy="1082.4" r="9.9"/><circle cx="1095.5" cy="1190.5" r="9.9"/><circle cx="1134.3" cy="1254.5" r="9.9"/><circle cx="1173.1" cy="1326.1" r="9.9"/><circle cx="1211.9" cy="1373.8" r="9.9"/><circle cx="1250.7" cy="1425.7" r="9.9"/><circle cx="1289.4" cy="1465.8" r="9.9"/><circle cx="1328.2" cy="1486.6" r="9.9"/><circle cx="1367" cy="1510.5" r="9.9"/><circle cx="1405.8" cy="1538" r="9.9"/><circle cx="1444.6" cy="1546.7" r="9.9"/><circle cx="1483.3" cy="1560" r="9.9"/><circle cx="1522.1" cy="1574.8" r="9.9"/><circle cx="1560.9" cy="1587.6" r="9.9"/><circle cx="1599.7" cy="1592.4" r="9.9"/><circle cx="1638.5" cy="1587.6" r="9.9"/><circle cx="1677.2" cy="1600" r="9.9"/><circle cx="1716" cy="1602" r="9.9"/><circle cx="1754.8" cy="1605.7" r="9.9"/><circle cx="1793.6" cy="1607.6" r="9.9"/><circle cx="1832.4" cy="1603.4" r="9.9"/><circle cx="1871.1" cy="1608" r="9.9"/><circle cx="1909.9" cy="1610" r="9.9"/><circle cx="1948.7" cy="1611" r="9.9"/></g><g fill="#8b5ae0"><circle cx="404" cy="696.5" r="9.9"/><circle cx="436.3" cy="613.2" r="9.9"/><circle cx="475.1" cy="540.7" r="9.9"/><circle cx="513.8" cy="480.5" r="9.9"/><circle cx="552.6" cy="446" r="9.9"/><circle cx="591.4" cy="426.2" r="9.9"/><circle cx="630.2" cy="433.5" r="9.9"/><circle cx="669" cy="460.6" r="9.9"/><circle cx="707.7" cy="503.9" r="9.9"/><circle cx="746.5" cy="570.4" r="9.9"/><circle cx="785.3" cy="638" r="9.9"/><circle cx="824.1" cy="713.7" r="9.9"/><circle cx="862.9" cy="805.7" r="9.9"/><circle cx="901.6" cy="900.2" r="9.9"/><circle cx="940.4" cy="993.6" r="9.9"/><circle cx="979.2" cy="1088.9" r="9.9"/><circle cx="1018" cy="1182" r="9.9"/><circle cx="1056.8" cy="1265" r="9.9"/><circle cx="1095.5" cy="1270.3" r="9.9"/><circle cx="1134.3" cy="1376.7" r="9.9"/><circle cx="1173.1" cy="1425.7" r="9.9"/><circle cx="1211.9" cy="1467.3" r="9.9"/><circle cx="1250.7" cy="1515.2" r="9.9"/><circle cx="1289.4" cy="1527.1" r="9.9"/><circle cx="1328.2" cy="1546.7" r="9.9"/><circle cx="1367" cy="1565.7" r="9.9"/><circle cx="1405.8" cy="1565.7" r="9.9"/><circle cx="1444.6" cy="1584" r="9.9"/><circle cx="1483.3" cy="1590.4" r="9.9"/><circle cx="1522.1" cy="1597.1" r="9.9"/><circle cx="1560.9" cy="1605.1" r="9.9"/><circle cx="1599.7" cy="1614.7" r="9.9"/><circle cx="1638.5" cy="1611.5" r="9.9"/><circle cx="1677.2" cy="1611.5" r="9.9"/><circle cx="1716" cy="1620" r="9.9"/><circle cx="1754.8" cy="1614.7" r="9.9"/><circle cx="1793.6" cy="1613" r="9.9"/><circle cx="1832.4" cy="1618" r="9.9"/><circle cx="1871.1" cy="1623" r="9.9"/><circle cx="1909.9" cy="1622.3" r="9.9"/><circle cx="1948.7" cy="1620.9" r="9.9"/></g><g fill="#ff0000"><circle cx="404" cy="207.2" r="9.9"/><circle cx="436.3" cy="193.5" r="9.9"/><circle cx="475.1" cy="193.5" r="9.9"/><circle cx="513.8" cy="213.7" r="9.9"/><circle cx="552.6" cy="250.9" r="9.9"/><circle cx="591.4" cy="324.1" r="9.9"/><circle cx="630.2" cy="411.8" r="9.9"/><circle cx="669" cy="523.4" r="9.9"/><circle cx="707.7" cy="613.2" r="9.9"/><circle cx="746.5" cy="716" r="9.9"/><circle cx="785.3" cy="826.3" r="9.9"/><circle cx="824.1" cy="941.7" r="9.9"/><circle cx="862.9" cy="1051" r="9.9"/><circle cx="901.6" cy="1152.7" r="9.9"/><circle cx="940.4" cy="1245" r="9.9"/><circle cx="979.2" cy="1315.8" r="9.9"/><circle cx="1018" cy="1365.5" r="9.9"/><circle cx="1056.8" cy="1420.7" r="9.9"/><circle cx="1095.5" cy="1470.5" r="9.9"/><circle cx="1134.3" cy="1496.5" r="9.9"/><circle cx="1173.1" cy="1523" r="9.9"/><circle cx="1211.9" cy="1526" r="9.9"/><circle cx="1250.7" cy="1579.7" r="9.9"/><circle cx="1289.4" cy="1580.6" r="9.9"/><circle cx="1328.2" cy="1580.6" r="9.9"/><circle cx="1367" cy="1577.7" r="9.9"/><circle cx="1405.8" cy="1584.6" r="9.9"/><circle cx="1444.6" cy="1625" r="9.9"/><circle cx="1483.3" cy="1599" r="9.9"/><circle cx="1522.1" cy="1616.3" r="9.9"/><circle cx="1560.9" cy="1622.7" r="9.9"/><circle cx="1599.7" cy="1650" r="9.9"/><circle cx="1638.5" cy="1650" r="9.9"/><circle cx="1677.2" cy="1650" r="9.9"/><circle cx="1716" cy="1613.9" r="9.9"/><circle cx="1754.8" cy="1650" r="9.9"/><circle cx="1793.6" cy="1625" r="9.9"/><circle cx="1832.4" cy="1623" r="9.9"/><circle cx="1871.1" cy="1604.8" r="9.9"/><circle cx="1909.9" cy="1601.3" r="9.9"/><circle cx="1948.7" cy="1650" r="9.9"/></g></g>
<g><g fill="#ff0000"><path d="M1592 137H1747.2" stroke="#ff0000" stroke-width="9.6" fill="none"/><circle cx="1666" cy="134.1" r="9.9"/><text x="1753.8" y="153.8" font-size="52.5">10000</text></g><g fill="#0000dc"><path d="M1592 206.2H1747.2" stroke="#0000dc" stroke-width="9.6" fill="none"/><circle cx="1666" cy="203.3" r="9.9"/><text x="1753.8" y="223" font-size="52.5">9010</text></g><g fill="#006414"><path d="M1592 275.4H1747.2" stroke="#006414" stroke-width="9.6" fill="none"/><circle cx="1666" cy="272.5" r="9.9"/><text x="1753.8" y="292.2" font-size="52.5">8110</text></g><g fill="#000000"><path d="M1592 344.6H1747.2" stroke="#000000" stroke-width="9.6" fill="none"/><circle cx="1666" cy="341.7" r="9.9"/><text x="1753.8" y="361.4" font-size="52.5">7350</text></g><g fill="#ff0090"><path d="M1592 413.8H1747.2" stroke="#ff0090" stroke-width="9.6" fill="none"/><circle cx="1666" cy="410.9" r="9.9"/><text x="1753.8" y="430.6" font-size="52.5">6580</text></g><g fill="#00ecf8"><path d="M1592 483H1747.2" stroke="#00ecf8" stroke-width="9.6" fill="none"/><circle cx="1666" cy="480.1" r="9.9"/><text x="1753.8" y="499.8" font-size="52.5">5830</text></g><g fill="#fff000"><path d="M1592 552.2H1747.2" stroke="#fff000" stroke-width="9.6" fill="none"/><circle cx="1666" cy="549.3" r="9.9"/><text x="1753.8" y="569" font-size="52.5">5330</text></g><g fill="#ff6600"><path d="M1592 621.4H1747.2" stroke="#ff6600" stroke-width="9.6" fill="none"/><circle cx="1666" cy="618.5" r="9.9"/><text x="1753.8" y="638.2" font-size="52.5">4330</text></g><g fill="#00a8e8"><path d="M1592 690.6H1747.2" stroke="#00a8e8" stroke-width="9.6" fill="none"/><circle cx="1666" cy="687.7" r="9.9"/><text x="1753.8" y="707.4" font-size="52.5">3510</text></g><g fill="#4d5052"><path d="M1592 759.8H1747.2" stroke="#4d5052" stroke-width="9.6" fill="none"/><circle cx="1666" cy="756.9" r="9.9"/><text x="1753.8" y="776.6" font-size="52.5">2850</text></g><g fill="#f07fdc"><path d="M1592 829H1747.2" stroke="#f07fdc" stroke-width="9.6" fill="none"/><circle cx="1666" cy="826.1" r="9.9"/><text x="1753.8" y="845.8" font-size="52.5">2400</text></g><g fill="#ffd21e"><path d="M1592 898.2H1747.2" stroke="#ffd21e" stroke-width="9.6" fill="none"/><circle cx="1666" cy="895.3" r="9.9"/><text x="1753.8" y="915" font-size="52.5">18700</text></g><g fill="#7f5f00"><path d="M1592 967.4H1747.2" stroke="#7f5f00" stroke-width="9.6" fill="none"/><circle cx="1666" cy="964.5" r="9.9"/><text x="1753.8" y="984.2" font-size="52.5">1520</text></g><g fill="#ff4080"><path d="M1592 1036.6H1747.2" stroke="#ff4080" stroke-width="9.6" fill="none"/><circle cx="1666" cy="1033.7" r="9.9"/><text x="1753.8" y="1053.4" font-size="52.5">1230</text></g><g fill="#00ff0a"><path d="M1592 1105.8H1747.2" stroke="#00ff0a" stroke-width="9.6" fill="none"/><circle cx="1666" cy="1102.9" r="9.9"/><text x="1753.8" y="1122.6" font-size="52.5">1000</text></g><g fill="#8b5ae0"><path d="M1592 1175H1747.2" stroke="#8b5ae0" stroke-width="9.6" fill="none"/><circle cx="1666" cy="1172.1" r="9.9"/><text x="1753.8" y="1191.8" font-size="52.5">600</text></g><g fill="#ff0000"><path d="M1592 1244.2H1747.2" stroke="#ff0000" stroke-width="9.6" fill="none"/><circle cx="1666" cy="1241.3" r="9.9"/><text x="1753.8" y="1261" font-size="52.5">300</text></g></g>
</g>
</svg></body></html>
